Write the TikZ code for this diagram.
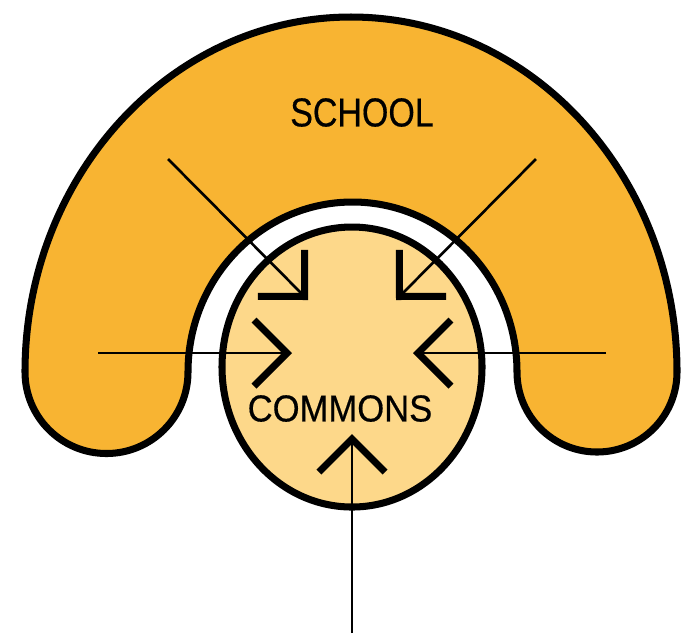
\documentclass[tikz,border=0pt]{standalone}
\usepackage{fontspec}
\newfontfamily\schoolfont{Liberation Sans}[FakeStretch=0.84, FakeBold=0.4]
\newfontfamily\commonsfont{Liberation Sans}[FakeStretch=0.92, FakeBold=0.4]
\usetikzlibrary{arrows.meta}
\definecolor{schoolorange}{HTML}{F8B432}
\definecolor{commonsyellow}{HTML}{FDD88A}

\begin{document}
\begin{tikzpicture}[x=0.01cm, y=0.01cm,
  school/.style={draw=black, fill=schoolorange, line width=2pt, line join=round},
  commons/.style={draw=black, fill=commonsyellow, line width=2pt},
  flow/.style={line width=0.75pt, -{Straight Barb[length=3.3mm, width=6.6mm, line width=2pt, sharp]}},
  lbl/.style={inner sep=0pt, text=black},
]
\useasboundingbox (0,0) rectangle (682,-638);

% ---------- School (horseshoe) ----------
\draw[school] (25,-372) arc[start angle=180, end angle=0, x radius=326, y radius=355]
  arc[start angle=0, end angle=-180, radius=80]
  arc[start angle=0, end angle=180, x radius=164.5, y radius=170]
  arc[start angle=0, end angle=-180, radius=81.5] -- cycle;

% ---------- Commons ----------
\draw[commons] (352,-367) ellipse[x radius=130, y radius=140];

% ---------- Arrow ends ----------
\coordinate (nw) at (168,-159);
\coordinate (nwtip) at (308,-300);
\coordinate (ne) at (536,-159);
\coordinate (netip) at (396,-300);
\coordinate (w) at (98,-353);
\coordinate (wtip) at (292,-353);
\coordinate (e) at (606,-353);
\coordinate (etip) at (413,-353);
\coordinate (s) at (352,-633);
\coordinate (stip) at (352,-434);

% ---------- Arrows into the commons ----------
\draw[flow] (nw) -- (nwtip);
\draw[flow] (ne) -- (netip);
\draw[flow] (w) -- (wtip);
\draw[flow] (e) -- (etip);
\draw[flow] (s) -- (stip);

% ---------- Labels ----------
\node[lbl, font=\schoolfont\fontsize{11.5}{13}\selectfont] (schoollbl) at (362,-112.5) {SCHOOL};
\node[lbl, font=\commonsfont\fontsize{10.7}{12}\selectfont] (commonslbl) at (340,-408.5) {COMMONS};

\end{tikzpicture}
\end{document}
